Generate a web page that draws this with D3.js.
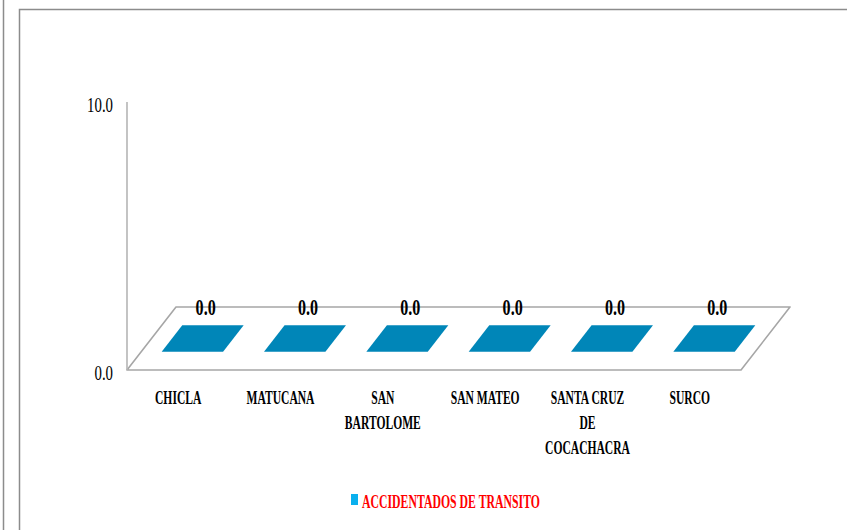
<!DOCTYPE html>
<html>
<head>
<meta charset="utf-8">
<script src="https://cdn.jsdelivr.net/npm/d3@7"></script>
<style>
  body { margin: 0; background: #fff; }
  svg { display: block; }
  text { font-family: "Liberation Serif", "Times New Roman", serif; }
</style>
</head>
<body>
<div id="chart"></div>
<script>
// data
var categories = ["CHICLA", "MATUCANA", "SAN BARTOLOME", "SAN MATEO", "SANTA CRUZ DE COCACHACRA", "SURCO"];
var values = [0, 0, 0, 0, 0, 0];
var yTicks = [0, 10];
var seriesName = "ACCIDENTADOS DE TRANSITO";

var W = 847, H = 530;
var plot = {left: 127, right: 741, top: 102, bottom: 370};
var depth = {dx: 49, dy: -63};      // 3d floor offset
var barFront = 0.29, barBack = 0.71; // bar position inside the depth

var svg = d3.select("#chart").append("svg")
    .attr("width", W).attr("height", H);

// chart frames (neighbour chart edge + own border)
svg.append("line")
    .attr("x1", 3.5).attr("x2", 3.5).attr("y1", 0).attr("y2", H)
    .attr("stroke", "#8c8c8c").attr("stroke-width", 1.5);
svg.append("rect")
    .attr("x", 19.5).attr("y", 9.5).attr("width", W).attr("height", H)
    .attr("fill", "none").attr("stroke", "#8c8c8c").attr("stroke-width", 1.5);

var x = d3.scaleBand().domain(categories).range([plot.left, plot.right])
    .paddingInner(0.4).paddingOuter(0.2);
var y = d3.scaleLinear().domain([0, 10]).range([plot.bottom, plot.top]);

// squeezed text helper: the source fonts are narrow
function squeezed(g, px, py, txt, sx) {
    return g.append("g").attr("transform", "translate(" + px + "," + py + ")")
        .append("text").attr("transform", "scale(" + sx + ",1)").text(txt);
}

// floor
var y0 = y(0);
var floorPts = [
    [plot.left, y0], [plot.right, y0],
    [plot.right + depth.dx, y0 + depth.dy], [plot.left + depth.dx, y0 + depth.dy]
];
svg.append("polygon")
    .attr("points", floorPts.map(function(p) { return p.join(","); }).join(" "))
    .attr("fill", "#fff").attr("stroke", "#a6a6a6").attr("stroke-width", 1.6)
    .attr("stroke-linejoin", "round");

// y axis line
svg.append("line")
    .attr("x1", plot.left).attr("x2", plot.left)
    .attr("y1", y(10)).attr("y2", y(0))
    .attr("stroke", "#b5b5b5").attr("stroke-width", 1.6);

// y tick labels
var tickG = svg.append("g");
yTicks.forEach(function(t) {
    squeezed(tickG, 113, y(t) + 10, t.toFixed(1), 0.74)
        .attr("text-anchor", "end").attr("font-size", 20).attr("fill", "#000");
});

// bars (3d boxes, flat when value is 0)
var bars = svg.append("g");
categories.forEach(function(c, i) {
    var x0 = x(c), x1 = x(c) + x.bandwidth();
    var yv = y(values[i]);
    var f0 = barFront, f1 = barBack;
    var front = [[x0 + f0 * depth.dx, y0 + f0 * depth.dy], [x1 + f0 * depth.dx, y0 + f0 * depth.dy],
                 [x1 + f0 * depth.dx, yv + f0 * depth.dy], [x0 + f0 * depth.dx, yv + f0 * depth.dy]];
    var side = [[x1 + f0 * depth.dx, y0 + f0 * depth.dy], [x1 + f1 * depth.dx, y0 + f1 * depth.dy],
                [x1 + f1 * depth.dx, yv + f1 * depth.dy], [x1 + f0 * depth.dx, yv + f0 * depth.dy]];
    var top = [[x0 + f0 * depth.dx, yv + f0 * depth.dy], [x1 + f0 * depth.dx, yv + f0 * depth.dy],
               [x1 + f1 * depth.dx, yv + f1 * depth.dy], [x0 + f1 * depth.dx, yv + f1 * depth.dy]];
    [[front, "#006f99"], [side, "#005c80"], [top, "#0086b8"]].forEach(function(f) {
        bars.append("polygon")
            .attr("points", f[0].map(function(p) { return p.join(","); }).join(" "))
            .attr("fill", f[1]);
    });
});

// value labels
var valG = svg.append("g");
categories.forEach(function(c, i) {
    var cx = x(c) + x.bandwidth() / 2 + depth.dx * 0.5 + 3;
    var cy = y(values[i]) + depth.dy * 0.5 - 24;
    squeezed(valG, cx, cy, values[i].toFixed(1), 0.7)
        .attr("text-anchor", "middle").attr("font-size", 23)
        .attr("font-weight", "bold").attr("fill", "#000");
});

// category labels, wrapped like the original
var catSx = 0.61, catMax = 87, lineH = 25;
var measure = svg.append("text").attr("font-size", 19).attr("font-weight", "bold")
    .attr("visibility", "hidden");
function textW(s) { measure.text(s); return measure.node().getComputedTextLength() * catSx; }
var catG = svg.append("g");
categories.forEach(function(c) {
    var words = c.split(" "), lines = [], cur = "";
    words.forEach(function(w) {
        var trial = cur ? cur + " " + w : w;
        if (cur && textW(trial) > catMax) { lines.push(cur); cur = w; }
        else cur = trial;
    });
    lines.push(cur);
    var cx = x(c) + x.bandwidth() / 2;
    lines.forEach(function(l, k) {
        squeezed(catG, cx, y0 + 34 + k * lineH, l, catSx)
            .attr("text-anchor", "middle").attr("font-size", 19)
            .attr("font-weight", "bold").attr("fill", "#000");
    });
});
measure.remove();

// legend
var leg = svg.append("g");
leg.append("rect").attr("x", 351).attr("y", 494).attr("width", 7).attr("height", 11)
    .attr("fill", "#0ab0ee");
squeezed(leg, 362, 508, seriesName, 0.62)
    .attr("font-size", 19).attr("font-weight", "bold").attr("fill", "#ff0000");
</script>
</body>
</html>
